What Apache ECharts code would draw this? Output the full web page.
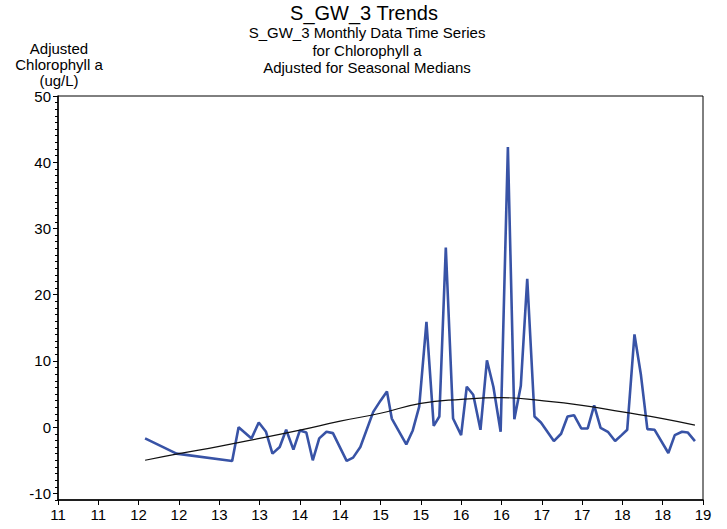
<!DOCTYPE html>
<html>
<head>
<meta charset="utf-8">
<script src="https://cdn.jsdelivr.net/npm/echarts@6/dist/echarts.min.js"></script>
<style>
html,body{margin:0;padding:0;background:#fff;}
#chart{width:727px;height:529px;}
</style>
</head>
<body>
<div id="chart"></div>
<script>
// Observed adjusted chlorophyll a (decimal year, value)
const obsYears = [2012.08, 2012.47, 2013.16, 2013.24, 2013.40, 2013.49, 2013.58, 2013.66, 2013.75, 2013.83, 2013.92, 2014.00,
  2014.08, 2014.16, 2014.24, 2014.33, 2014.41, 2014.58, 2014.66, 2014.75, 2014.91, 2015.00, 2015.08, 2015.14,
  2015.32, 2015.40, 2015.48, 2015.57, 2015.66, 2015.73, 2015.81, 2015.90, 2016.00, 2016.07, 2016.15, 2016.24,
  2016.32, 2016.40, 2016.49, 2016.58, 2016.66, 2016.74, 2016.82, 2016.91, 2016.99, 2017.15, 2017.24, 2017.32,
  2017.40, 2017.49, 2017.57, 2017.65, 2017.73, 2017.82, 2017.91, 2017.99, 2018.06, 2018.15, 2018.23, 2018.31,
  2018.40, 2018.57, 2018.65, 2018.74, 2018.81, 2018.90];
const obsValues = [-1.7, -4.0, -5.1, 0.0, -1.7, 0.7, -0.7, -4.0, -3.0, -0.4, -3.4, -0.5,
  -0.8, -5.0, -1.7, -0.7, -0.9, -5.1, -4.6, -3.0, 2.3, 4.0, 5.4, 1.3,
  -2.6, -0.5, 3.1, 15.9, 0.2, 1.6, 27.1, 1.3, -1.2, 6.1, 4.9, -0.4,
  10.1, 6.1, -0.7, 42.3, 1.2, 6.2, 22.4, 1.6, 0.7, -2.1, -1.0, 1.6,
  1.8, -0.2, -0.2, 3.3, -0.1, -0.7, -2.1, -1.2, -0.4, 14.0, 7.9, -0.3,
  -0.4, -3.9, -1.2, -0.7, -0.8, -2.1];
// Trend curve
const trendYears = [2012.08, 2012.5, 2013.0, 2013.5, 2014.0, 2014.5, 2015.0, 2015.5, 2016.0, 2016.5, 2017.0, 2017.5, 2018.0, 2018.5, 2018.9];
const trendValues = [-5.0, -4.0, -2.9, -1.7, -0.45, 0.9, 2.1, 3.6, 4.2, 4.45, 4.0, 3.3, 2.3, 1.3, 0.3];
// Axis labels
const yTickValues = [-10, 0, 10, 20, 30, 40, 50];

const FONT = "'Liberation Sans', Arial, sans-serif";
const obsData = obsYears.map((y, i) => [y, obsValues[i]]);
const trendData = trendYears.map((y, i) => [y, trendValues[i]]);

const chart = echarts.init(document.getElementById('chart'), null, {renderer: 'svg'});
chart.setOption({
  animation: false,
  backgroundColor: '#fff',
  textStyle: {fontFamily: FONT, color: '#000'},
  title: [
    {text: 'S_GW_3 Trends', left: 364, top: 2, textAlign: 'center', padding: 0,
     textStyle: {fontFamily: FONT, fontSize: 20, fontWeight: 'normal', color: '#000', lineHeight: 21}},
    {text: 'S_GW_3 Monthly Data Time Series\nfor Chlorophyll a\nAdjusted for Seasonal Medians',
     left: 367, top: 24, textAlign: 'center', padding: 0,
     textStyle: {fontFamily: FONT, fontSize: 15, fontWeight: 'normal', color: '#000', lineHeight: 17.5, align: 'center'}},
    {text: 'Adjusted\nChlorophyll a\n(ug/L)', left: 59, top: 40, textAlign: 'center', padding: 0,
     textStyle: {fontFamily: FONT, fontSize: 15, fontWeight: 'normal', color: '#000', lineHeight: 16, align: 'center'}}
  ],
  grid: {left: 58, right: 24, top: 96, bottom: 29, show: true, borderColor: '#000', borderWidth: 1, containLabel: false},
  xAxis: {
    type: 'value', min: 2011, max: 2019, interval: 0.5,
    axisLine: {show: true, onZero: false, lineStyle: {color: '#000', width: 1.5}},
    axisTick: {show: true, length: 5, lineStyle: {color: '#000'}},
    axisLabel: {color: '#000', fontFamily: FONT, fontSize: 15, margin: 7,
      formatter: v => String(Math.floor(v + 1e-6) % 100)},
    splitLine: {show: false}
  },
  yAxis: [
    {type: 'value', min: -11, max: 50,
     axisLine: {show: true, onZero: false, lineStyle: {color: '#000', width: 1.5}},
     axisTick: {show: true, length: 5, customValues: yTickValues, lineStyle: {color: '#000'}},
     axisLabel: {color: '#000', fontFamily: FONT, fontSize: 15, margin: 7, customValues: yTickValues},
     splitLine: {show: false}},
    {type: 'value', min: -11, max: 50, interval: 1, position: 'left',
     axisLine: {show: false},
     axisTick: {show: true, length: 3, lineStyle: {color: '#000'}},
     axisLabel: {show: false},
     splitLine: {show: false}}
  ],
  series: [
    {type: 'line', data: obsData, yAxisIndex: 0, showSymbol: false, symbol: 'none',
     lineStyle: {color: '#3853a6', width: 2.6}, z: 2},
    {type: 'line', data: trendData, yAxisIndex: 0, showSymbol: false, symbol: 'none', smooth: true,
     lineStyle: {color: '#111', width: 1.2}, z: 3}
  ]
});
</script>
</body>
</html>
